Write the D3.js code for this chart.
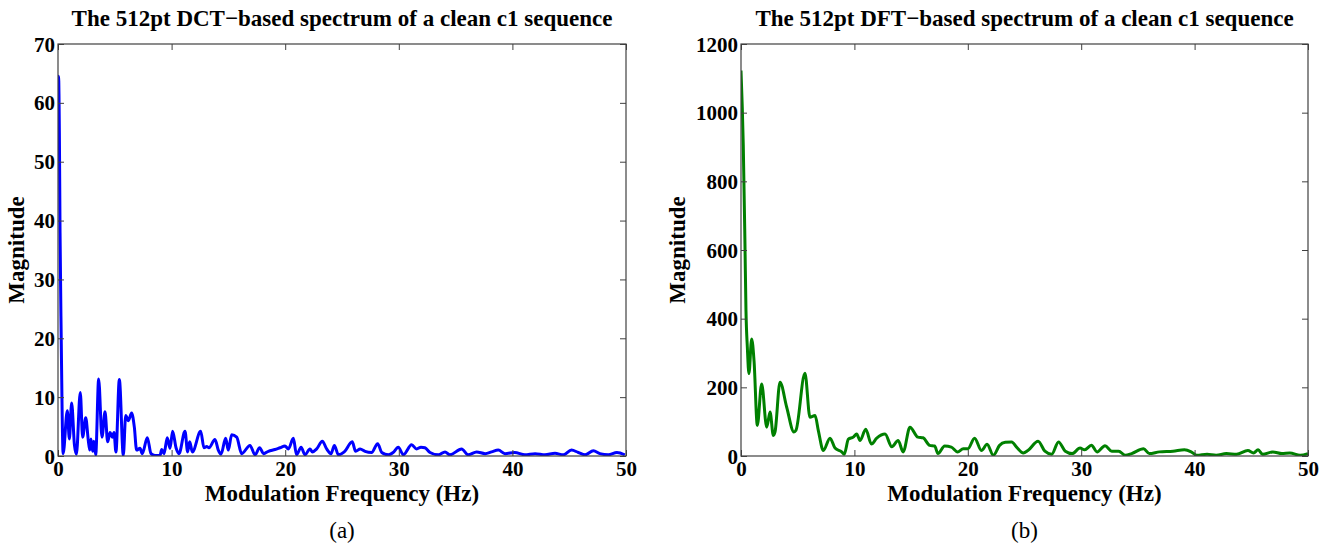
<!DOCTYPE html>
<html>
<head>
<meta charset="utf-8">
<script src="https://cdn.jsdelivr.net/npm/d3@7"></script>
<style>
  html, body { margin: 0; padding: 0; background: #fff; }
  svg { display: block; }
  .tick-label { font-family: "Liberation Serif", "Times New Roman", serif; font-weight: bold; font-size: 21px; fill: #000; }
  .title { font-family: "Liberation Serif", "Times New Roman", serif; font-weight: bold; font-size: 23px; fill: #000; }
  .axis-label { font-family: "Liberation Serif", "Times New Roman", serif; font-weight: bold; font-size: 23px; fill: #000; }
  .caption { font-family: "Liberation Serif", "Times New Roman", serif; font-size: 23px; fill: #000; }
</style>
</head>
<body>
<svg id="chart" width="1336" height="549"></svg>
<script>
// ---------- data ----------
const xTicks = [0, 10, 20, 30, 40, 50];
const dctYTicks = [0, 10, 20, 30, 40, 50, 60, 70];
const dftYTicks = [0, 200, 400, 600, 800, 1000, 1200];

const titles = [
  "The 512pt DCT\u2212based spectrum of a clean c1 sequence",
  "The 512pt DFT\u2212based spectrum of a clean c1 sequence"
];
const xLabel = "Modulation Frequency (Hz)";
const yLabel = "Magnitude";
const captions = ["(a)", "(b)"];

const dctFreq = [0, 0.05, 0.12, 0.18, 0.29, 0.36, 0.45, 0.82, 1.0, 1.2, 1.45, 1.62, 1.96, 2.17, 2.44, 2.67, 2.8, 2.9, 3.05, 3.15, 3.32,
  3.58, 3.87, 4.14, 4.37, 4.58, 4.78, 4.93, 5.1, 5.4, 5.75, 5.96, 6.19, 6.48, 6.72, 6.92, 7.22, 7.42, 7.86, 8.19, 8.54, 8.98,
  9.13, 9.33, 9.62, 9.86, 10.09, 10.39, 10.65, 11.18, 11.41, 11.59, 11.83, 12.56, 12.85, 13.09, 13.29, 13.82, 14.11, 14.35,
  14.76, 14.99, 15.29, 15.73, 16.17, 16.9, 17.34, 17.75, 18.1, 18.52, 19.1, 19.54, 19.98, 20.28, 20.72, 21.0, 21.4, 21.74, 22.18,
  22.4, 22.77, 23.27, 23.65, 24.03, 24.33, 24.68, 25.2, 25.9, 26.2, 26.6, 27.03, 27.6, 28.14, 28.5, 29.08, 29.5, 29.96, 30.4,
  31.13, 31.57, 31.95, 32.3, 32.75, 33.5, 34.07, 34.5, 35.53, 36.1, 36.85, 37.6, 38.17, 38.76, 39.35, 40.2, 41.1, 42.0, 42.87,
  43.75, 44.5, 45.2, 45.8, 46.4, 47.13, 47.7, 48.45, 49.2, 49.9];
const dctMag = [62, 64.5, 55, 38, 19, 8, 0.4, 7.7, 2.9, 9.0, 1.8, 0.3, 10.8, 3.2, 6.5, 2.6, 1.0, 2.9, 0.8, 2.5, 0.2,
  13.1, 3.2, 7.5, 2.4, 4.0, 3.2, 4.0, 0.7, 13.0, 0.1, 6.9, 6.0, 7.3, 4.9, 1.0, 1.3, 0.4, 3.1, 0.4, 0.1, 0.1,
  1.1, 0.4, 3.1, 1.3, 4.2, 1.4, 0.4, 4.2, 0.7, 2.4, 0.7, 4.2, 1.4, 1.6, 1.4, 2.8, 1.0, 0.3,
  3.0, 1.0, 3.6, 3.2, 0.4, 1.8, 0.2, 1.4, 0.4, 0.8, 1.1, 1.4, 1.7, 1.2, 3.0, 0.2, 1.5, 0.2, 1.2,
  0.7, 1.2, 2.5, 1.2, 0.4, 1.8, 0.2, 0.7, 2.4, 0.8, 1.2, 0.8, 0.6, 2.1, 0.6, 0.2, 0.6, 1.5, 0.2,
  1.9, 1.2, 1.5, 1.4, 0.6, 0.2, 0.7, 0.2, 1.2, 0.2, 0.7, 0.4, 0.7, 1.0, 0.4, 0.6, 0.2, 0.4, 0.2,
  0.45, 0.2, 1.0, 0.6, 0.2, 0.9, 0.4, 0.2, 0.6, 0.2];

const dftFreq = [0, 0.2, 0.35, 0.44, 0.56, 0.7, 0.94, 1.15, 1.44, 1.82, 2.27, 2.56, 2.85, 3.0, 3.44, 4.03, 4.67, 4.85, 5.64,
  6.08, 6.53, 6.82, 7.26, 7.85, 8.29, 8.88, 9.1, 9.47, 9.9, 10.2, 10.5, 11.0, 11.5, 11.97, 12.7, 13.3, 13.86, 14.3, 14.9,
  15.6, 16.05, 16.64, 17.08, 17.37, 17.96, 18.55, 19.1, 19.6, 20.0, 20.6, 21.2, 21.7, 22.25, 22.8, 23.3, 23.87, 24.3, 24.9,
  25.3, 26.2, 26.8, 27.4, 28.0, 28.6, 29.2, 29.9, 30.3, 30.9, 31.4, 32.1, 32.7, 33.3, 33.9, 34.45, 35.5, 36.0, 36.9, 38.1,
  39.1, 39.7, 40.2, 41.1, 41.9, 42.8, 43.7, 44.7, 45.2, 45.6, 46.0, 46.9, 47.7, 48.4, 49.3, 50];
const dftMag = [1123, 906, 616, 422, 316, 240, 341, 277, 89, 210, 84, 128, 60, 70, 215, 142, 70, 75, 241,
  113, 118, 74, 16, 52, 23, 12, 5, 49, 55, 64, 45, 78, 35, 52, 64, 27, 45, 12, 84,
  55, 53, 31, 29, 7, 29, 26, 12, 21, 21, 52, 16, 34, 2, 31, 40, 41, 26, 9,
  16, 43, 14, 5, 41, 14, 7, 23, 18, 31, 12, 30, 14, 14, 2, 7, 21, 7, 12, 14,
  18, 12, 2, 5, 2, 7, 5, 16, 9, 18, 5, 12, 7, 9, 2, 7];

// ---------- drawing ----------
const svg = d3.select("#chart");

const panels = [
  { left: 58, right: 626, top: 44, bottom: 456, yMax: 70, yTicks: dctYTicks, freq: dctFreq, mag: dctMag,
    color: "#0000ff", title: titles[0], caption: captions[0], yLabelX: 24 },
  { left: 741, right: 1308, top: 44, bottom: 456, yMax: 1200, yTicks: dftYTicks, freq: dftFreq, mag: dftMag,
    color: "#008000", title: titles[1], caption: captions[1], yLabelX: 685 }
];

panels.forEach(p => {
  const x = d3.scaleLinear().domain([0, 50]).range([p.left, p.right]);
  const y = d3.scaleLinear().domain([0, p.yMax]).range([p.bottom, p.top]);
  const g = svg.append("g");
  const cx = (p.left + p.right) / 2;
  const tickLen = 6;

  // data line (clipped to plot area)
  const clipId = "clip" + p.left;
  svg.append("clipPath").attr("id", clipId).append("rect")
    .attr("x", p.left).attr("y", p.top).attr("width", p.right - p.left).attr("height", p.bottom - p.top);
  const pts = p.freq.map((f, i) => [f, p.mag[i]]);
  g.append("path")
    .datum(pts)
    .attr("clip-path", `url(#${clipId})`)
    .attr("fill", "none")
    .attr("stroke", p.color)
    .attr("stroke-width", 3)
    .attr("stroke-linejoin", "round")
    .attr("d", d3.line().x(d => x(d[0])).y(d => y(d[1])).curve(d3.curveMonotoneX));

  // axes via d3 axis generators (inward ticks)
  const axCol = "#404040";
  const fmt = d3.format("d");
  const bottomAx = g.append("g").attr("transform", `translate(0,${p.bottom})`)
    .call(d3.axisBottom(x).tickValues(xTicks).tickSize(-tickLen).tickPadding(6).tickFormat(fmt));
  const topAx = g.append("g").attr("transform", `translate(0,${p.top})`)
    .call(d3.axisTop(x).tickValues(xTicks).tickSize(-tickLen).tickFormat(""));
  const leftAx = g.append("g").attr("transform", `translate(${p.left},0)`)
    .call(d3.axisLeft(y).tickValues(p.yTicks).tickSize(-tickLen).tickPadding(3).tickFormat(fmt));
  const rightAx = g.append("g").attr("transform", `translate(${p.right},0)`)
    .call(d3.axisRight(y).tickValues(p.yTicks).tickSize(-tickLen).tickFormat(""));
  [bottomAx, topAx, leftAx, rightAx].forEach(a => {
    a.select(".domain").remove();
    a.selectAll(".tick line").attr("stroke", axCol).attr("stroke-width", 1);
    a.selectAll("text").attr("class", "tick-label").attr("fill", "#000");
    a.attr("font-size", null).attr("font-family", null);
  });
  bottomAx.selectAll("text").attr("y", 6).attr("dy", "0.68em");
  leftAx.selectAll("text").attr("dy", "0.34em");

  // box
  g.append("rect")
    .attr("x", p.left).attr("y", p.top)
    .attr("width", p.right - p.left).attr("height", p.bottom - p.top)
    .attr("fill", "none").attr("stroke", axCol).attr("stroke-width", 1.2);

  // title
  g.append("text").attr("class", "title").attr("x", cx).attr("y", 26)
    .attr("text-anchor", "middle").text(p.title);
  // x label
  g.append("text").attr("class", "axis-label").attr("x", cx).attr("y", 501)
    .attr("text-anchor", "middle").text(xLabel);
  // y label
  g.append("text").attr("class", "axis-label")
    .attr("transform", `translate(${p.yLabelX},${(p.top + p.bottom) / 2}) rotate(-90)`)
    .attr("text-anchor", "middle").text(yLabel);
  // caption
  g.append("text").attr("class", "caption").attr("x", cx).attr("y", 538)
    .attr("text-anchor", "middle").text(p.caption);
});
</script>
</body>
</html>
